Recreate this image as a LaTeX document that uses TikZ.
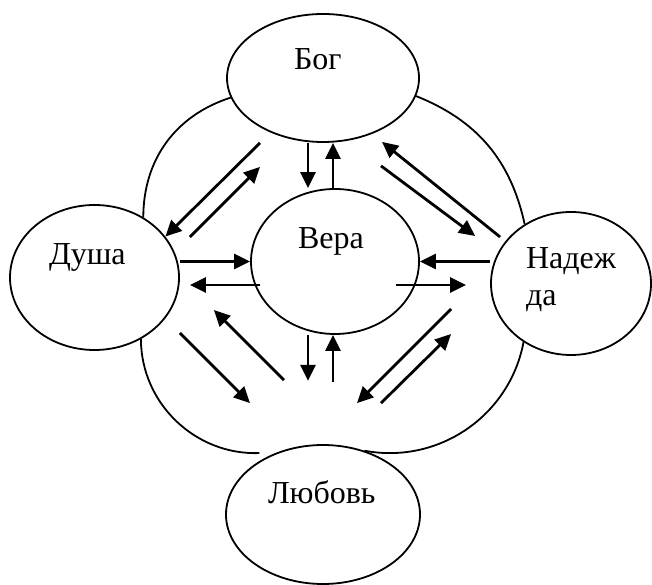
\documentclass[tikz,border=0pt]{standalone}
\usepackage{fontspec}
\setmainfont{Liberation Serif}
\usetikzlibrary{arrows.meta}
\usetikzlibrary{shapes.geometric}

\tikzset{
  oval/.style={ellipse, draw=black, line width=1.8pt,
    inner sep=0pt, align=left,
    text height=22pt, text depth=47pt,
    font=\rmfamily\fontsize{32}{37}\selectfont},
  ring/.style={draw=black, line width=1.8pt},
  arr/.style={-{Triangle[length=16pt,width=15pt]}, line width=2.8pt}
}

\begin{document}
\begin{tikzpicture}[x=1pt,y=1pt]
  \useasboundingbox (0,0) rectangle (652,585);

  % ellipses
  \node (bog)
    [oval, minimum width=192pt, minimum height=128pt,
     text width=58pt, text depth=38pt]
    at (323,507) {Бог};
  \node (vera)
    [oval, minimum width=168pt, minimum height=145pt,
     text width=74pt]
    at (335,323.5) {Вера};
  \node (dusha)
    [oval, minimum width=169pt, minimum height=145pt,
     text width=91pt]
    at (94.5,307.5) {Душа};
  \node (nadezhda)
    [oval, minimum width=160pt, minimum height=143pt,
     text width=90pt, text depth=51pt]
    at (571,301.5) {Надеж\\да};
  \node (lyubov)
    [oval, minimum width=194pt, minimum height=139pt,
     text width=110pt, text depth=43pt]
    at (323,70.5) {Любовь};

  % outer arcs
  \draw [ring] (bog.192) to[bend right=36] (dusha.51);
  \draw [ring] (bog.349) to[bend left=28] (nadezhda.128);
  \draw [ring] (dusha.-53) to[bend right=46] ([yshift=8pt]lyubov.140);
  \draw [ring] (nadezhda.231) to[bend left=45] (lyubov.57);

  % arrows
  \path [arr]
    ([xshift=-15pt]bog.south) edge ([xshift=-27pt]vera.north)
    ([xshift=-2pt]vera.north) edge ([xshift=10pt]bog.south)
    ([xshift=-63pt]bog.south) edge (dusha.30)
    ([xshift=10pt,yshift=40.5pt]dusha.east) edge ([xshift=-63pt,yshift=-24pt]bog.south)
    ([xshift=10pt,yshift=46.5pt]nadezhda.west) edge ([xshift=59pt,yshift=1pt]bog.south)
    ([xshift=58pt,yshift=-23pt]bog.south) edge ([xshift=-15pt,yshift=47.5pt]nadezhda.west)
    (vera.west -| dusha.east) edge (vera.west)
    ([xshift=10pt,yshift=-23.5pt]vera.west) edge ([xshift=10pt,yshift=-7.5pt]dusha.east)
    (vera.east -| nadezhda.west) edge (vera.east)
    ([xshift=-24pt,yshift=-23.5pt]vera.east) edge ([xshift=-24pt,yshift=-1.5pt]nadezhda.west)
    ([xshift=-27pt]vera.south) edge ([xshift=-27pt,yshift=-46pt]vera.south)
    ([xshift=-2pt,yshift=-47pt]vera.south) edge ([xshift=-2pt]vera.south)
    ([yshift=-55.5pt]dusha.east) edge ([xshift=-73pt,yshift=41pt]lyubov.north)
    ([xshift=-39pt,yshift=64pt]lyubov.north) edge ([xshift=34pt,yshift=-32.5pt]dusha.east)
    ([xshift=-39pt,yshift=-25.5pt]nadezhda.west) edge ([xshift=34pt,yshift=41pt]lyubov.north)
    ([xshift=58pt,yshift=41pt]lyubov.north) edge ([xshift=-39pt,yshift=-50.5pt]nadezhda.west)
    ;
\end{tikzpicture}
\end{document}
